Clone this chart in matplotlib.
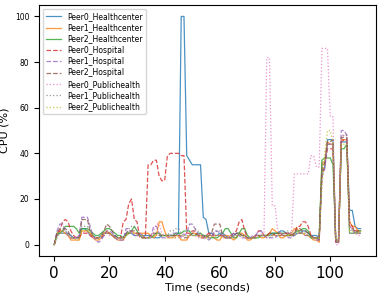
import matplotlib
matplotlib.use("Agg")
import matplotlib.pyplot as plt
import numpy as np

# one sample per second
time = np.arange(0, 112)

peer0_healthcenter = [
    0, 4, 5, 5, 5, 5, 4, 3, 3, 3,
    7, 7, 6, 4, 4, 3, 3, 4, 5, 5,
    5, 4, 4, 3, 3, 3, 5, 5, 5, 4,
    4, 4, 4, 4, 4, 4, 3, 3, 3, 4,
    4, 4, 4, 4, 4, 5, 100, 100, 39, 37,
    35, 35, 35, 35, 12, 11, 5, 5, 4, 4,
    5, 5, 4, 3, 3, 4, 5, 5, 4, 4,
    3, 3, 3, 4, 4, 4, 4, 4, 4, 5,
    5, 5, 6, 6, 5, 5, 4, 4, 5, 5,
    6, 6, 5, 4, 4, 4, 3, 32, 34, 46,
    46, 46, 1, 1, 45, 45, 45, 15, 15, 8,
    7, 7]
peer1_healthcenter = [
    0, 5, 6, 6, 5, 4, 2, 2, 2, 2,
    6, 6, 6, 5, 3, 2, 2, 3, 5, 6,
    5, 4, 3, 2, 2, 2, 4, 5, 6, 5,
    5, 5, 5, 5, 5, 4, 3, 4, 10, 10,
    6, 3, 3, 3, 4, 4, 2, 2, 2, 4,
    5, 5, 4, 4, 3, 3, 4, 4, 3, 2,
    2, 4, 4, 4, 3, 2, 3, 5, 5, 4,
    2, 2, 3, 4, 4, 3, 3, 4, 5, 7,
    6, 5, 3, 3, 4, 4, 5, 7, 7, 5,
    5, 4, 4, 3, 2, 2, 1, 36, 36, 45,
    44, 44, 1, 1, 46, 46, 46, 10, 8, 8,
    6, 6]
peer2_healthcenter = [
    0, 5, 5, 6, 8, 8, 8, 8, 7, 5,
    7, 7, 7, 6, 5, 4, 4, 5, 6, 7,
    7, 6, 5, 4, 4, 3, 4, 5, 6, 8,
    6, 4, 3, 3, 3, 3, 4, 5, 5, 4,
    4, 4, 4, 4, 5, 5, 5, 6, 6, 6,
    4, 4, 5, 5, 4, 4, 3, 3, 3, 3,
    4, 5, 7, 7, 5, 3, 3, 5, 7, 7,
    4, 3, 3, 3, 3, 4, 4, 4, 5, 5,
    5, 5, 5, 5, 5, 4, 4, 5, 6, 6,
    7, 7, 6, 3, 3, 3, 3, 37, 38, 38,
    38, 35, 2, 2, 42, 42, 44, 5, 5, 5,
    6, 6]
peer0_hospital = [
    0, 5, 6, 10, 11, 10, 6, 4, 3, 3,
    5, 5, 5, 4, 3, 3, 3, 3, 4, 5,
    5, 4, 3, 3, 3, 10, 11, 18, 20, 11,
    10, 3, 3, 3, 35, 35, 37, 37, 30, 28,
    28, 39, 40, 40, 40, 40, 39, 39, 5, 5,
    6, 6, 4, 3, 3, 4, 5, 5, 4, 4,
    4, 4, 3, 3, 4, 5, 6, 10, 11, 6,
    3, 3, 3, 4, 6, 6, 4, 4, 5, 5,
    4, 4, 4, 5, 5, 5, 4, 5, 8, 8,
    10, 10, 8, 4, 3, 3, 3, 30, 34, 42,
    42, 42, 1, 1, 45, 46, 46, 10, 8, 6,
    6, 6]
peer1_hospital = [
    0, 6, 9, 9, 6, 4, 3, 3, 3, 4,
    12, 12, 12, 8, 4, 2, 1, 2, 4, 6,
    6, 5, 3, 2, 2, 2, 7, 7, 5, 4,
    4, 5, 4, 3, 3, 3, 8, 8, 5, 3,
    3, 3, 4, 5, 5, 5, 3, 4, 5, 9,
    9, 7, 5, 4, 3, 3, 2, 3, 6, 6,
    5, 4, 3, 3, 4, 5, 4, 4, 3, 3,
    3, 3, 4, 4, 6, 6, 4, 3, 3, 3,
    3, 4, 4, 4, 4, 3, 3, 4, 5, 5,
    5, 4, 4, 4, 3, 2, 2, 30, 33, 44,
    44, 44, 2, 2, 50, 50, 48, 8, 7, 5,
    5, 5]
peer2_hospital = [
    0, 5, 7, 7, 7, 6, 3, 3, 3, 3,
    11, 11, 11, 6, 4, 3, 3, 4, 6, 9,
    8, 6, 4, 3, 3, 3, 5, 6, 6, 6,
    5, 4, 4, 3, 3, 4, 5, 5, 4, 4,
    4, 4, 4, 4, 4, 4, 4, 3, 3, 4,
    5, 5, 4, 4, 4, 3, 4, 5, 9, 9,
    9, 4, 3, 3, 3, 4, 5, 5, 4, 4,
    3, 3, 3, 3, 4, 4, 4, 4, 4, 4,
    5, 5, 5, 4, 4, 4, 4, 5, 7, 7,
    6, 6, 5, 4, 3, 3, 2, 33, 36, 45,
    45, 46, 1, 1, 47, 47, 47, 8, 7, 6,
    5, 5]
peer0_publichealth = [
    0, 4, 5, 5, 5, 4, 3, 3, 3, 4,
    5, 5, 5, 4, 3, 3, 3, 4, 5, 5,
    4, 4, 3, 3, 3, 3, 4, 5, 6, 5,
    4, 4, 4, 3, 3, 3, 6, 9, 9, 5,
    4, 4, 4, 3, 3, 3, 4, 5, 5, 4,
    4, 4, 3, 3, 3, 3, 3, 4, 4, 4,
    4, 3, 3, 3, 3, 4, 4, 4, 3, 3,
    3, 3, 3, 4, 4, 4, 4, 82, 82, 17,
    17, 6, 5, 5, 5, 5, 5, 31, 31, 31,
    31, 31, 31, 39, 39, 34, 34, 86, 86, 86,
    56, 56, 0, 0, 48, 48, 48, 5, 5, 5,
    4, 4]
peer1_publichealth = [
    0, 4, 5, 6, 6, 5, 4, 3, 3, 3,
    8, 8, 8, 6, 4, 3, 3, 3, 5, 5,
    5, 4, 3, 3, 3, 3, 5, 7, 8, 8,
    6, 4, 3, 3, 3, 3, 4, 5, 5, 4,
    4, 4, 6, 6, 7, 7, 5, 4, 4, 4,
    5, 7, 6, 5, 4, 4, 3, 4, 5, 6,
    6, 5, 4, 3, 3, 3, 4, 4, 4, 4,
    3, 3, 3, 3, 4, 4, 4, 3, 3, 4,
    4, 4, 4, 5, 6, 6, 5, 5, 6, 6,
    5, 5, 4, 3, 3, 3, 3, 35, 36, 44,
    44, 44, 1, 1, 46, 48, 48, 7, 6, 5,
    5, 5]
peer2_publichealth = [
    0, 3, 5, 5, 5, 4, 3, 3, 2, 2,
    6, 6, 6, 5, 4, 3, 3, 4, 5, 5,
    5, 4, 3, 3, 3, 3, 4, 5, 5, 5,
    4, 4, 4, 3, 3, 3, 4, 5, 5, 4,
    4, 4, 4, 3, 3, 4, 4, 4, 4, 4,
    4, 4, 4, 3, 3, 3, 3, 3, 4, 4,
    4, 3, 3, 3, 3, 3, 4, 4, 4, 3,
    3, 3, 3, 3, 3, 4, 4, 4, 4, 4,
    4, 4, 4, 4, 4, 4, 4, 4, 5, 5,
    5, 5, 4, 3, 3, 3, 3, 25, 40, 50,
    50, 45, 2, 2, 44, 44, 44, 6, 6, 5,
    5, 5]

series = [
    ("Peer0_Healthcenter", peer0_healthcenter, "tab:blue", "-"),
    ("Peer1_Healthcenter", peer1_healthcenter, "tab:orange", "-"),
    ("Peer2_Healthcenter", peer2_healthcenter, "tab:green", "-"),
    ("Peer0_Hospital", peer0_hospital, "tab:red", "--"),
    ("Peer1_Hospital", peer1_hospital, "tab:purple", "--"),
    ("Peer2_Hospital", peer2_hospital, "tab:brown", "--"),
    ("Peer0_Publichealth", peer0_publichealth, "tab:pink", ":"),
    ("Peer1_Publichealth", peer1_publichealth, "tab:gray", ":"),
    ("Peer2_Publichealth", peer2_publichealth, "tab:olive", ":"),
]

fig = plt.figure(figsize=(3.82, 2.96), dpi=100)
ax = fig.add_axes([0.102, 0.135, 0.882, 0.848])

for name, vals, color, ls in series:
    ax.plot(time, vals, color=color, linestyle=ls, linewidth=0.9, alpha=0.8, label=name)

ax.set_xlabel("Time (seconds)", fontsize=8, labelpad=1)
ax.set_ylabel("CPU (%)", fontsize=8)
ax.tick_params(axis="x", labelsize=11)
ax.tick_params(axis="y", labelsize=5.5)
ax.legend(loc="upper left", fontsize=5.5, labelspacing=0.3)

fig.savefig("out.png", dpi=100)
